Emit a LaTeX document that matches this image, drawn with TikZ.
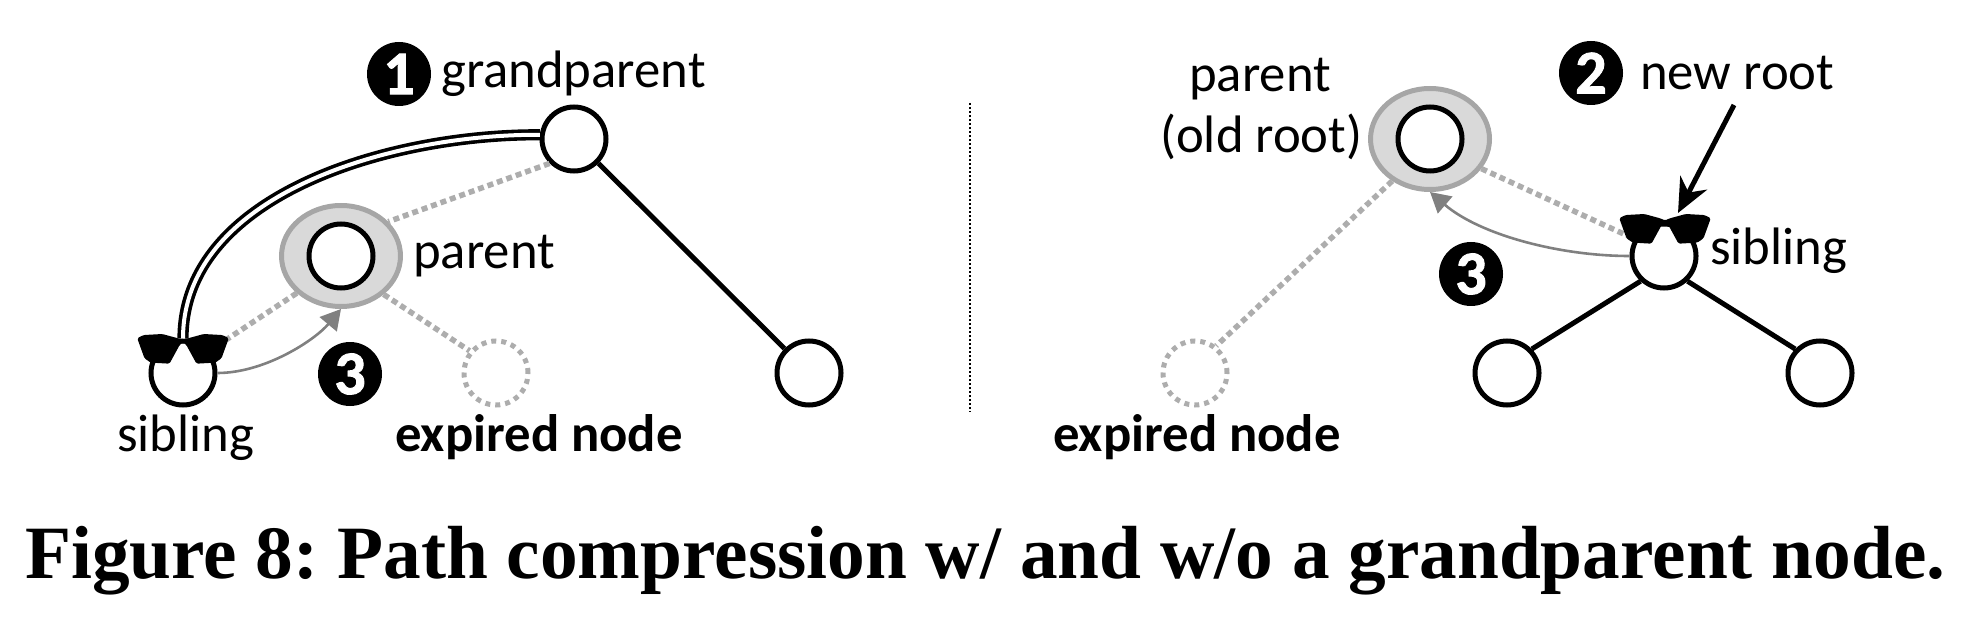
\documentclass[tikz,border=0pt]{standalone}
\usepackage{fontspec}
\usetikzlibrary{arrows.meta,shapes.geometric}
\setmainfont{Carlito}
\newfontfamily\capfont{Liberation Serif}
\tikzset{
 lab/.style={inner sep=0pt,anchor=base west,font=\fontsize{52.7}{60}\selectfont},
 blab/.style={lab,font=\fontsize{52.7}{60}\selectfont\bfseries},
 tnode/.style={circle,draw=black,line width=5pt,minimum size=64pt,inner sep=0pt,fill=white},
 xnode/.style={circle,draw=expgray,line width=5pt,dash pattern=on 5pt off 5pt,minimum size=64pt,inner sep=0pt},
 ring/.style={ellipse,draw=ringline,fill=ringfill,line width=5pt,minimum width=119pt,minimum height=101pt,inner sep=0pt},
 badge/.style={circle,fill=black,text=white,minimum size=64pt,inner sep=0pt,font=\fontsize{62}{60}\selectfont\bfseries\addfontfeature{FakeBold=1.5}},
 solid edge/.style={draw=black,line width=5pt},
 dot edge/.style={draw=expgray,line width=5.5pt,dash pattern=on 6pt off 4pt},
 compress/.style={draw=black,line width=3.6pt,double=white,double distance=4pt},
 move/.style={draw=arrowgray,line width=2.6pt,-{Triangle[length=20pt,width=22pt]}},
 point/.style={draw=black,line width=5pt,-{Stealth[length=34pt,width=30pt,inset=11pt]}},
 shades/.pic={\fill[black,rounded corners=1.5pt,xscale=1.04,yscale=1.06] (-44,4) -- (-38,1) -- (-20,0) -- (-5,4) -- (0,6) -- (5,4) -- (20,0) -- (38,1) -- (44,4) -- (37,23) -- (31,27) -- (13,28) -- (3,10) -- (0,8) -- (-3,10) -- (-13,28) -- (-31,27) -- (-37,23) -- cycle;}
}
\definecolor{expgray}{HTML}{ADADAD}
\definecolor{ringline}{HTML}{A6A6A6}
\definecolor{ringfill}{HTML}{D9D9D9}
\definecolor{arrowgray}{HTML}{808080}
\begin{document}
\begin{tikzpicture}[x=1pt,y=-1pt]
\useasboundingbox (0,0) rectangle (1969,617);
% left panel nodes
\node[ring] (pl) at (341,256) {};
\node[tnode] (gp) at (574,139) {};
\node[tnode] (pli) at (341,256) {};
\node[tnode] (sl) at (183,373) {};
\node[tnode] (rc) at (809,373) {};
\node[xnode] (xl) at (496,373) {};
\node[badge] (b1) at (399,74) {1};
\node[badge] (b3l) at (350,374) {3};
\node[lab] (tgp) at (441,88) {grandparent};
\node[lab] (tpl) at (413,269) {parent};
\node[lab] (tsl) at (117,451) {sibling};
\node[blab] (txl) at (395,451) {expired node};
% left edges
\draw[solid edge] (gp) -- (rc);
\draw[dot edge] (gp.225) -- (pl.36);
\draw[dot edge] (pl.220) -- (sl.40);
\draw[dot edge] (pl.-42) -- (xl.140);
\draw[compress] (gp.173) .. controls (390,134) and (183,195) .. (sl.north);
\draw[move] (sl.east) .. controls (265,373) and (315,340) .. (pl.south);
\pic at (183,334) {shades};
% separator
\coordinate (s1) at (970,103);
\coordinate (s2) at (970,412);
\draw[black,line width=1.5pt,dash pattern=on 2pt off 2pt] (s1) -- (s2);
% right panel nodes
\node[ring] (pr) at (1430,139) {};
\node[tnode] (pri) at (1430,139) {};
\node[tnode] (sr) at (1664,256) {};
\node[tnode] (c1) at (1507,373) {};
\node[tnode] (c2) at (1820,373) {};
\node[xnode] (xr) at (1195,373) {};
\node[badge] (b2) at (1591,73) {2};
\node[badge] (b3r) at (1471,274) {3};
\node[lab] (tnr) at (1640,90) {new root};
\node[lab] (tpr) at (1189,92) {parent};
\node[lab] (tor) at (1160,153) {(old root)};
\node[lab] (tsr) at (1710,265) {sibling};
\node[blab] (txr) at (1053,451) {expired node};
% right edges
\draw[solid edge] (sr.227) -- (c1.44);
\draw[solid edge] (sr.-47) -- (c2.136);
\draw[dot edge] (pr.-30) -- (sr.150);
\draw[dot edge] (pr.228) -- (xr.52);
\draw[move] (sr.west) .. controls (1560,256) and (1480,235) .. (pr.south);
\pic at (1665,214) {shades};
\coordinate (nr) at (1734,105);
\coordinate (gl) at (1678,213);
\draw[point] (nr) -- (gl);
% caption
\node[inner sep=0pt,anchor=base west,font=\capfont\fontsize{75.3}{80}\selectfont\bfseries] (cap) at (25,578) {\frenchspacing Figure 8: Path compression w/ and w/o a grandparent node.};
\end{tikzpicture}
\end{document}
